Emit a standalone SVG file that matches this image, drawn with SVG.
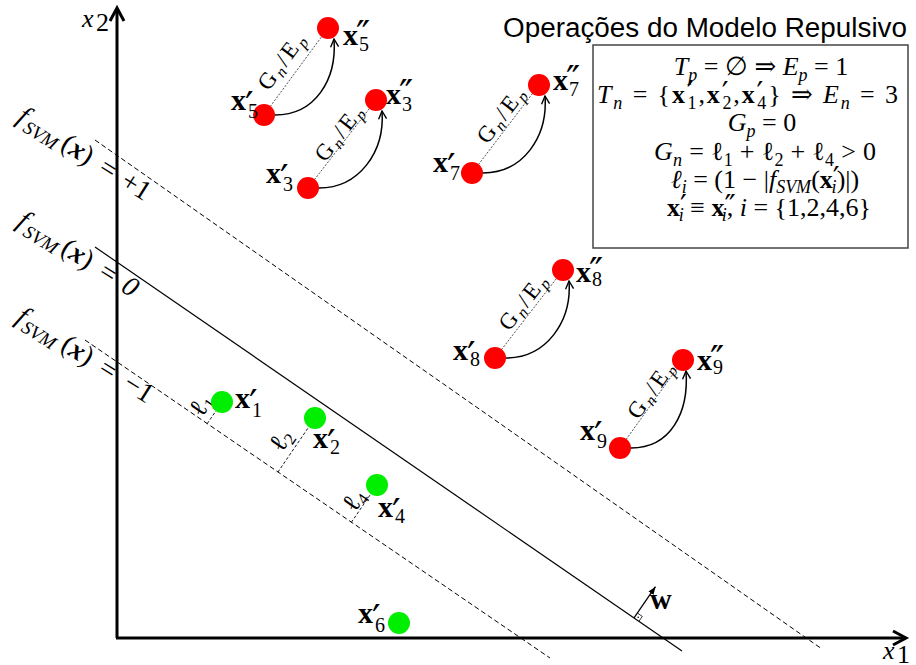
<svg xmlns="http://www.w3.org/2000/svg" width="916" height="665" viewBox="0 0 916 665">
<defs>
<style>
.ax{stroke:#000;stroke-width:3;fill:none}
.dash{stroke:#000;stroke-width:1;stroke-dasharray:5 3;fill:none}
.sol{stroke:#000;stroke-width:1.2;fill:none}
.dot{stroke:#222;stroke-width:0.8;stroke-dasharray:2 1.5;fill:none}
.perp{stroke:#000;stroke-width:0.9;stroke-dasharray:3 2;fill:none}
.cv{stroke:#000;stroke-width:1.5;fill:none;marker-end:url(#oa)}
.red{fill:#ff0000}
.grn{fill:#00ee00}
.m{font-family:"Liberation Serif","DejaVu Serif",serif;font-size:26px;fill:#000}
.fl{font-family:"Liberation Serif","DejaVu Serif",serif;font-size:28px;fill:#000}
.i{font-style:italic}
.b{font-weight:bold}
.bi{font-weight:bold;font-style:italic}
.s{font-size:18px}
.p{font-size:30px;font-family:"DejaVu Serif",serif;font-weight:normal;font-style:normal}
.lb{font-family:"Liberation Serif","DejaVu Serif",serif;font-weight:bold;font-size:30px}
.sb{font-size:20px;font-weight:normal}
.pr{font-size:38px;font-weight:normal;font-family:"DejaVu Serif",serif}
.gl{font-family:"Liberation Serif","DejaVu Serif",serif;font-size:23px}
.gs{font-size:16px;font-style:italic}
.ti{font-family:"Liberation Sans",Arial,sans-serif;font-size:27px}
</style>
<marker id="oa" markerWidth="12" markerHeight="12" refX="9" refY="5" orient="auto" markerUnits="userSpaceOnUse" viewBox="0 0 12 10"><path d="M1,1 L9,5 L1,9" fill="none" stroke="#000" stroke-width="1.4"/></marker>
<marker id="fa" markerWidth="10" markerHeight="8" refX="8" refY="3" orient="auto" markerUnits="userSpaceOnUse" viewBox="0 0 10 6"><path d="M0,0 L8,3 L0,6 z" fill="#000"/></marker>
</defs>
<rect width="916" height="665" fill="#fff"/>

<g id="hyperplanes">
<path class="dash" d="M95,140 L822,649"/>
<path class="sol" d="M95,247 L682,651"/>
<path class="dash" d="M85,340 L550,658"/>
</g>

<g id="axes">
<path class="ax" d="M117,638 L117,9"/>
<path class="ax" d="M110,21 L117,8 L124,21" stroke-width="2.5"/>
<path class="ax" d="M116,638 L905,638"/>
<path class="ax" d="M893,631 L906,638 L893,645" stroke-width="2.5"/>
<text class="m i" x="82" y="27" font-size="30">x</text><text class="m" x="96" y="31" font-size="20">2</text>
<text class="m i" x="883" y="659" font-size="30">x</text><text class="m" x="897" y="663" font-size="20">1</text>
</g>

<g id="hyperplane-labels" class="fl">
<g transform="translate(22,118) rotate(32)">
<text x="0" y="6" text-anchor="middle" class="i">f</text>
<text x="25" y="11" text-anchor="middle" class="i" font-size="19">SVM</text>
<text x="64" y="6" text-anchor="middle">(<tspan class="bi">x</tspan>)</text>
<text x="100" y="6" text-anchor="middle">=</text>
<text x="133" y="6" text-anchor="middle">+1</text>
</g>
<g transform="translate(21,224) rotate(32)">
<text x="0" y="4" text-anchor="middle" class="i">f</text>
<text x="25" y="9" text-anchor="middle" class="i" font-size="19">SVM</text>
<text x="64" y="4" text-anchor="middle">(<tspan class="bi">x</tspan>)</text>
<text x="100" y="4" text-anchor="middle">=</text>
<text x="126" y="4" text-anchor="middle" class="i">0</text>
</g>
<g transform="translate(20,320) rotate(32)">
<text x="0" y="4" text-anchor="middle" class="i">f</text>
<text x="24" y="9" text-anchor="middle" class="i" font-size="19">SVM</text>
<text x="65" y="4" text-anchor="middle">(<tspan class="bi">x</tspan>)</text>
<text x="101" y="4" text-anchor="middle">=</text>
<text x="137" y="4" text-anchor="middle">−1</text>
</g>
</g>

<g id="margins">
<path class="perp" d="M207.2,423.7 L216.4,410.3"/>
<path class="perp" d="M277.9,472.1 L309.3,426.2"/>
<path class="perp" d="M351.3,522.4 L371.3,493.2"/>
<g class="m" transform="translate(202,406) rotate(-55.6)"><text y="7" text-anchor="middle" font-size="26">ℓ<tspan font-size="17" dy="4">1</tspan></text></g>
<g class="m" transform="translate(282,441) rotate(-55.6)"><text y="7" text-anchor="middle" font-size="26">ℓ<tspan font-size="17" dy="4">2</tspan></text></g>
<g class="m" transform="translate(355,501) rotate(-55.6)"><text y="7" text-anchor="middle" font-size="26">ℓ<tspan font-size="17" dy="4">4</tspan></text></g>
</g>

<g id="connectors">
<path class="dot" d="M264,115 L328,28"/>
<path class="dot" d="M308,188 L376,100"/>
<path class="dot" d="M472,173 L539,85"/>
<path class="dot" d="M495,358 L563,270"/>
<path class="dot" d="M620,448 L683,360"/>
<path class="cv" d="M275,115 C315,115 337,80 334,39"/>
<path class="cv" d="M319,188 C359,188 385,152 382,111"/>
<path class="cv" d="M483,173 C523,173 548,137 545,96"/>
<path class="cv" d="M506,358 C546,358 572,322 569,281"/>
<path class="cv" d="M631,448 C671,448 689,412 686,371"/>
<g transform="translate(282.5,62.5) rotate(-53.7)"><text class="gl" y="6" text-anchor="middle" textLength="64" lengthAdjust="spacing">G<tspan class="gs" dy="4">n</tspan><tspan dy="-4">/E</tspan><tspan class="gs" dy="4">p</tspan></text></g>
<g transform="translate(340,134) rotate(-52.3)"><text class="gl" y="6" text-anchor="middle" textLength="64" lengthAdjust="spacing">G<tspan class="gs" dy="4">n</tspan><tspan dy="-4">/E</tspan><tspan class="gs" dy="4">p</tspan></text></g>
<g transform="translate(502,116) rotate(-52.7)"><text class="gl" y="6" text-anchor="middle" textLength="64" lengthAdjust="spacing">G<tspan class="gs" dy="4">n</tspan><tspan dy="-4">/E</tspan><tspan class="gs" dy="4">p</tspan></text></g>
<g transform="translate(524,303) rotate(-52.3)"><text class="gl" y="6" text-anchor="middle" textLength="64" lengthAdjust="spacing">G<tspan class="gs" dy="4">n</tspan><tspan dy="-4">/E</tspan><tspan class="gs" dy="4">p</tspan></text></g>
<g transform="translate(652,391) rotate(-54.4)"><text class="gl" y="6" text-anchor="middle" textLength="64" lengthAdjust="spacing">G<tspan class="gs" dy="4">n</tspan><tspan dy="-4">/E</tspan><tspan class="gs" dy="4">p</tspan></text></g>
</g>

<g id="x5p"><circle class="red" cx="264" cy="115" r="11"/><text class="lb" x="231" y="110">x<tspan class="pr" x="245" y="118">′</tspan><tspan class="sb" x="248" y="118">5</tspan></text></g>
<g id="x5pp"><circle class="red" cx="328" cy="28" r="11"/><text class="lb" x="343" y="45">x<tspan class="pr" x="356" y="47">″</tspan><tspan class="sb" x="359" y="51">5</tspan></text></g>
<g id="x3p"><circle class="red" cx="308" cy="188" r="11"/><text class="lb" x="266" y="183">x<tspan class="pr" x="280" y="191">′</tspan><tspan class="sb" x="283" y="191">3</tspan></text></g>
<g id="x3pp"><circle class="red" cx="376" cy="100" r="11"/><text class="lb" x="386" y="104">x<tspan class="pr" x="399" y="106">″</tspan><tspan class="sb" x="402" y="111">3</tspan></text></g>
<g id="x7p"><circle class="red" cx="472" cy="173" r="11"/><text class="lb" x="433" y="172">x<tspan class="pr" x="447" y="180">′</tspan><tspan class="sb" x="450" y="180">7</tspan></text></g>
<g id="x7pp"><circle class="red" cx="539" cy="85" r="11"/><text class="lb" x="553" y="90">x<tspan class="pr" x="566" y="92">″</tspan><tspan class="sb" x="569" y="96">7</tspan></text></g>
<g id="x8p"><circle class="red" cx="495" cy="358" r="11"/><text class="lb" x="453" y="360">x<tspan class="pr" x="467" y="368">′</tspan><tspan class="sb" x="470" y="366">8</tspan></text></g>
<g id="x8pp"><circle class="red" cx="563" cy="270" r="11"/><text class="lb" x="576" y="282">x<tspan class="pr" x="589" y="284">″</tspan><tspan class="sb" x="592" y="286">8</tspan></text></g>
<g id="x9p"><circle class="red" cx="620" cy="448" r="11"/><text class="lb" x="580" y="440">x<tspan class="pr" x="594" y="448">′</tspan><tspan class="sb" x="597" y="448">9</tspan></text></g>
<g id="x9pp"><circle class="red" cx="683" cy="360" r="11"/><text class="lb" x="697" y="370">x<tspan class="pr" x="710" y="372">″</tspan><tspan class="sb" x="713" y="374">9</tspan></text></g>

<g id="x1p"><circle class="grn" cx="222" cy="402" r="11"/><text class="lb" x="235" y="408">x<tspan class="pr" x="249" y="416">′</tspan><tspan class="sb" x="252" y="417">1</tspan></text></g>
<g id="x2p"><circle class="grn" cx="315" cy="418" r="11"/><text class="lb" x="313" y="448">x<tspan class="pr" x="327" y="456">′</tspan><tspan class="sb" x="330" y="454">2</tspan></text></g>
<g id="x4p"><circle class="grn" cx="377" cy="485" r="11"/><text class="lb" x="378" y="517">x<tspan class="pr" x="392" y="525">′</tspan><tspan class="sb" x="395" y="523">4</tspan></text></g>
<g id="x6p"><circle class="grn" cx="399" cy="623" r="11"/><text class="lb" x="358" y="623">x<tspan class="pr" x="372" y="631">′</tspan><tspan class="sb" x="375" y="632">6</tspan></text></g>

<g id="w">
<path d="M634,617.9 L655.5,586.7" stroke="#000" stroke-width="1.3" marker-end="url(#fa)"/>
<polyline points="637.4,613 642.3,616.4 638.9,621.3" fill="none" stroke="#000" stroke-width="0.8"/>
<circle cx="638.2" cy="617.2" r="0.8" fill="#000"/>
<text class="lb" x="650" y="609" font-size="24">w</text>
</g>

<g id="legend">
<text class="ti" x="503" y="37" textLength="404" lengthAdjust="spacingAndGlyphs">Operações do Modelo Repulsivo</text>
<rect x="593" y="45" width="315" height="203" fill="none" stroke="#444" stroke-width="1.5"/>
<text class="m" x="761" y="75" text-anchor="middle"><tspan class="i">T</tspan><tspan class="i s" dy="6">p</tspan><tspan dy="-6"> = ∅ ⇒ </tspan><tspan class="i">E</tspan><tspan class="i s" dy="6">p</tspan><tspan dy="-6"> = 1</tspan></text>
<text class="m" x="597" y="103" textLength="301" lengthAdjust="spacing"><tspan class="i">T</tspan><tspan class="i s" dy="6">n</tspan><tspan dy="-6"> = {</tspan><tspan class="b">x</tspan><tspan class="p">′</tspan><tspan class="s" dx="-8" dy="6">1</tspan><tspan dy="-6">,</tspan><tspan class="b">x</tspan><tspan class="p">′</tspan><tspan class="s" dx="-8" dy="6">2</tspan><tspan dy="-6">,</tspan><tspan class="b">x</tspan><tspan class="p">′</tspan><tspan class="s" dx="-8" dy="6">4</tspan><tspan dy="-6">} ⇒ </tspan><tspan class="i">E</tspan><tspan class="i s" dy="6">n</tspan><tspan dy="-6"> = 3</tspan></text>
<text class="m" x="762" y="131" text-anchor="middle"><tspan class="i">G</tspan><tspan class="i s" dy="6">p</tspan><tspan dy="-6"> = 0</tspan></text>
<text class="m" x="765" y="160" text-anchor="middle" textLength="222" lengthAdjust="spacing"><tspan class="i">G</tspan><tspan class="i s" dy="6">n</tspan><tspan dy="-6"> = ℓ</tspan><tspan class="s" dy="6">1</tspan><tspan dy="-6"> + ℓ</tspan><tspan class="s" dy="6">2</tspan><tspan dy="-6"> + ℓ</tspan><tspan class="s" dy="6">4</tspan><tspan dy="-6"> &gt; 0</tspan></text>
<text class="m" x="765" y="188" text-anchor="middle"><tspan class="i">ℓ</tspan><tspan class="i s" dy="5">i</tspan><tspan dy="-5"> = (1 − |</tspan><tspan class="i">f</tspan><tspan class="i s" dy="5">SVM</tspan><tspan dy="-5">(</tspan><tspan class="b">x</tspan><tspan class="p">′</tspan><tspan class="i s" dx="-8" dy="5">i</tspan><tspan dy="-5">)|)</tspan></text>
<text class="m" x="769" y="216" text-anchor="middle"><tspan class="b">x</tspan><tspan class="p">′</tspan><tspan class="i s" dx="-8" dy="5">i</tspan><tspan dy="-5"> ≡ </tspan><tspan class="b">x</tspan><tspan class="p">″</tspan><tspan class="i s" dx="-14" dy="5">i</tspan><tspan dy="-5">, </tspan><tspan class="i">i</tspan> = {1,2,4,6}</text>
</g>
</svg>
